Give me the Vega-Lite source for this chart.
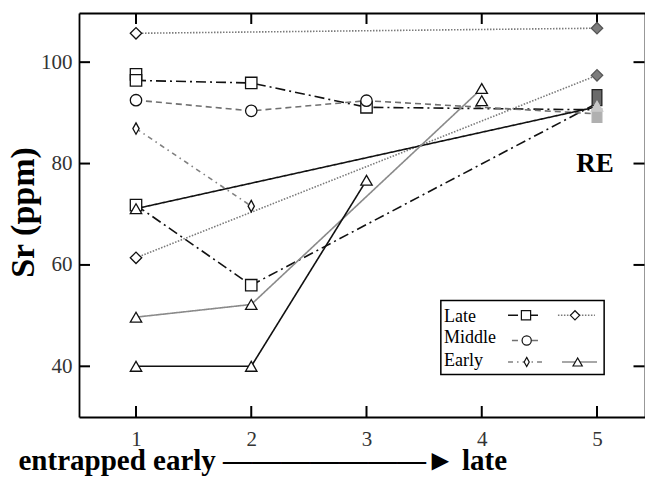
{
  "$schema": "https://vega.github.io/schema/vega-lite/v6.json",
  "width": 566,
  "height": 404,
  "autosize": {"type": "none"},
  "padding": {"left": 79, "top": 13, "right": 0, "bottom": 62},
  "background": "white",
  "config": {
    "view": {"stroke": null},
    "font": "Liberation Serif",
    "axis": {
      "grid": false,
      "domainColor": "#000000",
      "domainWidth": 1.8,
      "labelFont": "Liberation Serif",
      "titleFont": "Liberation Serif",
      "labelColor": "#333",
      "titleColor": "#000"
    }
  },
  "datasets": {
    "lines": [
      {"s": "Late-sq-1", "x": 1, "y": 96.4}, {"s": "Late-sq-1", "x": 2, "y": 95.9}, {"s": "Late-sq-1", "x": 3, "y": 91.1}, {"s": "Late-sq-1", "x": 5, "y": 90.6},
      {"s": "Late-sq-2", "x": 1, "y": 71.8}, {"s": "Late-sq-2", "x": 2, "y": 56.0}, {"s": "Late-sq-2", "x": 5, "y": 91.9},
      {"s": "Late-dia-1", "x": 1, "y": 105.7}, {"s": "Late-dia-1", "x": 5, "y": 106.7},
      {"s": "Late-dia-2", "x": 1, "y": 61.4}, {"s": "Late-dia-2", "x": 5, "y": 97.4},
      {"s": "Middle-1", "x": 1, "y": 92.5}, {"s": "Middle-1", "x": 2, "y": 90.4}, {"s": "Middle-1", "x": 3, "y": 92.4}, {"s": "Middle-1", "x": 5, "y": 89.8},
      {"s": "Early-dia-1", "x": 1, "y": 86.9}, {"s": "Early-dia-1", "x": 2, "y": 71.6},
      {"s": "Early-tri-1", "x": 1, "y": 71.1}, {"s": "Early-tri-1", "x": 5, "y": 91.2},
      {"s": "Early-tri-2", "x": 1, "y": 49.7}, {"s": "Early-tri-2", "x": 2, "y": 52.2}, {"s": "Early-tri-2", "x": 4, "y": 94.8},
      {"s": "Early-tri-3", "x": 1, "y": 40.0}, {"s": "Early-tri-3", "x": 2, "y": 40.0}, {"s": "Early-tri-3", "x": 3, "y": 76.7}
    ],
    "pts": [
      {"g": "Late-diamond", "x": 1, "y": 105.7},
      {"g": "Late-diamond", "x": 1, "y": 61.4},
      {"g": "Late-square", "x": 1, "y": 97.6},
      {"g": "Late-square", "x": 1, "y": 96.4},
      {"g": "Late-square", "x": 2, "y": 95.9},
      {"g": "Late-square", "x": 3, "y": 91.1},
      {"g": "Late-square", "x": 1, "y": 71.8},
      {"g": "Late-square", "x": 2, "y": 56.0},
      {"g": "Middle-circle", "x": 1, "y": 92.5},
      {"g": "Middle-circle", "x": 2, "y": 90.4},
      {"g": "Middle-circle", "x": 3, "y": 92.4},
      {"g": "Early-diamond", "x": 1, "y": 86.9},
      {"g": "Early-diamond", "x": 2, "y": 71.6},
      {"g": "Early-triangle", "x": 1, "y": 71.1},
      {"g": "Early-triangle", "x": 1, "y": 49.7},
      {"g": "Early-triangle", "x": 2, "y": 52.2},
      {"g": "Early-triangle", "x": 4, "y": 94.8},
      {"g": "Early-triangle", "x": 4, "y": 92.4},
      {"g": "Early-triangle", "x": 1, "y": 40.0},
      {"g": "Early-triangle", "x": 2, "y": 40.0},
      {"g": "Early-triangle", "x": 3, "y": 76.7},
      {"g": "RE-diamond", "x": 5, "y": 106.7},
      {"g": "RE-diamond", "x": 5, "y": 97.4},
      {"g": "RE-square-dark", "x": 5, "y": 93.0},
      {"g": "RE-square-light", "x": 5, "y": 89.5},
      {"g": "RE-triangle", "x": 5, "y": 91.3}
    ],
    "xticks": [{"v": 1}, {"v": 2}, {"v": 3}, {"v": 4}, {"v": 5}],
    "yticks": [{"v": 40}, {"v": 60}, {"v": 80}, {"v": 100}],
    "legbox": [{"x": 3.645, "x2": 5.062, "y": 38.36, "y2": 53.0}],
    "legtext": [
      {"label": "Late", "x": 3.672, "y": 48.8},
      {"label": "Middle", "x": 3.672, "y": 44.5},
      {"label": "Early", "x": 3.672, "y": 40.0}
    ],
    "leglines": [
      {"s": "Late-sq-1", "x": 4.228, "y": 50.06}, {"s": "Late-sq-1", "x": 4.488, "y": 50.06},
      {"s": "Late-dia-1", "x": 4.661, "y": 50.06}, {"s": "Late-dia-1", "x": 4.982, "y": 50.06},
      {"s": "Middle-1", "x": 4.262, "y": 45.1}, {"s": "Middle-1", "x": 4.488, "y": 45.1},
      {"s": "Early-dia-1", "x": 4.228, "y": 40.85}, {"s": "Early-dia-1", "x": 4.549, "y": 40.85},
      {"s": "Early-tri-2", "x": 4.696, "y": 40.85}, {"s": "Early-tri-2", "x": 5.0, "y": 40.85}
    ],
    "legpts": [
      {"g": "Late-square", "x": 4.384, "y": 50.06},
      {"g": "Late-diamond", "x": 4.809, "y": 50.06},
      {"g": "Middle-circle", "x": 4.39, "y": 45.1},
      {"g": "Early-diamond", "x": 4.39, "y": 40.85},
      {"g": "Early-triangle", "x": 4.832, "y": 40.85}
    ],
    "notes": [{"t": "RE", "x": 5, "y": 80}]
  },
  "resolve": {"axis": {"x": "independent", "y": "independent"}},
  "layer": [
    {
      "data": {"name": "lines"},
      "mark": {"type": "line", "clip": true},
      "encoding": {
        "x": {
          "field": "x", "type": "quantitative",
          "scale": {"domain": [0.5054, 5.4165], "nice": false, "zero": false},
          "axis": {
            "orient": "bottom", "values": [1, 2, 3, 4, 5], "format": "d",
            "ticks": false, "labelFontSize": 21, "labelPadding": 11,
            "title": "entrapped early ———————► late",
            "titleFontSize": 29, "titleFontWeight": "bold",
            "titleAnchor": "start", "titleAlign": "left", "titleBaseline": "alphabetic",
            "titleX": -61, "titleY": 52
          }
        },
        "y": {
          "field": "y", "type": "quantitative",
          "scale": {"domain": [30, 109.7], "nice": false, "zero": false},
          "axis": {
            "orient": "left", "values": [40, 60, 80, 100],
            "ticks": false, "labelFontSize": 21, "labelPadding": 7,
            "title": "Sr (ppm)", "titleFontSize": 34, "titleFontWeight": "bold",
            "titleAngle": -90, "titleAlign": "center", "titleBaseline": "alphabetic",
            "titleX": -46, "titleY": 199
          }
        },
        "detail": {"field": "s"},
        "color": {
          "field": "s", "type": "nominal", "legend": null,
          "scale": {
            "domain": ["Late-sq-1", "Late-sq-2", "Late-dia-1", "Late-dia-2", "Middle-1", "Early-dia-1", "Early-tri-1", "Early-tri-2", "Early-tri-3"],
            "range": ["#111111", "#111111", "#7a7a7a", "#7a7a7a", "#707070", "#808080", "#111111", "#8a8a8a", "#111111"]
          }
        },
        "strokeDash": {
          "field": "s", "type": "nominal", "legend": null,
          "scale": {
            "domain": ["Late-sq-1", "Late-sq-2", "Late-dia-1", "Late-dia-2", "Middle-1", "Early-dia-1", "Early-tri-1", "Early-tri-2", "Early-tri-3"],
            "range": [[10, 4, 2, 4], [10, 4, 2, 4], [1.5, 1.5], [1.5, 1.5], [6, 4], [5, 4, 1.5, 4], [1, 0], [1, 0], [1, 0]]
          }
        },
        "strokeWidth": {
          "field": "s", "type": "nominal", "legend": null,
          "scale": {
            "domain": ["Late-sq-1", "Late-sq-2", "Late-dia-1", "Late-dia-2", "Middle-1", "Early-dia-1", "Early-tri-1", "Early-tri-2", "Early-tri-3"],
            "range": [1.6, 1.6, 1.5, 1.5, 1.3, 1.3, 1.8, 1.0, 1.6]
          }
        }
      }
    },
    {
      "data": {"name": "pts"},
      "mark": {"type": "point", "opacity": 0},
      "encoding": {
        "x": {"field": "x", "type": "quantitative",
          "axis": {"orient": "top", "values": [1, 2, 3, 4, 5], "domain": true, "labels": false, "ticks": false, "title": null}},
        "y": {"field": "y", "type": "quantitative",
          "axis": {"orient": "right", "values": [40, 60, 80, 100], "domain": true, "labels": false, "ticks": false, "title": null}}
      }
    },
    {
      "data": {"name": "xticks"},
      "mark": {"type": "tick", "orient": "vertical", "size": 11, "thickness": 2, "color": "#000", "opacity": 1, "yOffset": -5.5},
      "encoding": {
        "x": {"field": "v", "type": "quantitative", "axis": null},
        "y": {"datum": 30, "type": "quantitative", "axis": null}
      }
    },
    {
      "data": {"name": "xticks"},
      "mark": {"type": "tick", "orient": "vertical", "size": 11, "thickness": 2, "color": "#000", "opacity": 1, "yOffset": 5.5},
      "encoding": {
        "x": {"field": "v", "type": "quantitative", "axis": null},
        "y": {"datum": 109.7, "type": "quantitative", "axis": null}
      }
    },
    {
      "data": {"name": "yticks"},
      "mark": {"type": "tick", "orient": "horizontal", "size": 11, "thickness": 2, "color": "#000", "opacity": 1, "xOffset": 5.5},
      "encoding": {
        "y": {"field": "v", "type": "quantitative", "axis": null},
        "x": {"datum": 0.5054, "type": "quantitative", "axis": null}
      }
    },
    {
      "data": {"name": "yticks"},
      "mark": {"type": "tick", "orient": "horizontal", "size": 11, "thickness": 2, "color": "#000", "opacity": 1, "xOffset": -6},
      "encoding": {
        "y": {"field": "v", "type": "quantitative", "axis": null},
        "x": {"datum": 5.4165, "type": "quantitative", "axis": null}
      }
    },
    {
      "data": {"name": "pts"},
      "mark": {"type": "point", "filled": true, "size": 130, "strokeWidth": 1.3, "opacity": 1},
      "encoding": {
        "x": {"field": "x", "type": "quantitative", "axis": null},
        "y": {"field": "y", "type": "quantitative", "axis": null},
        "shape": {
          "field": "g", "type": "nominal", "legend": null,
          "scale": {
            "domain": ["Late-square", "Late-diamond", "Middle-circle", "Early-diamond", "Early-triangle", "RE-diamond", "RE-square-dark", "RE-square-light", "RE-triangle"],
            "range": ["square", "diamond", "circle", "M0,-1L0.55,0L0,1L-0.55,0Z", "triangle-up", "diamond", "M-0.85,-1.4H0.85V1.4H-0.85Z", "M-0.85,-1.2H0.85V1.2H-0.85Z", "triangle-up"]
          }
        },
        "fill": {
          "field": "g", "type": "nominal", "legend": null,
          "scale": {
            "domain": ["Late-square", "Late-diamond", "Middle-circle", "Early-diamond", "Early-triangle", "RE-diamond", "RE-square-dark", "RE-square-light", "RE-triangle"],
            "range": ["#ffffff", "#ffffff", "#ffffff", "#ffffff", "#ffffff", "#7d7d7d", "#6a6a6a", "#b0b0b0", "#c8c8c8"]
          }
        },
        "stroke": {
          "field": "g", "type": "nominal", "legend": null,
          "scale": {
            "domain": ["Late-square", "Late-diamond", "Middle-circle", "Early-diamond", "Early-triangle", "RE-diamond", "RE-square-dark", "RE-square-light", "RE-triangle"],
            "range": ["#111111", "#111111", "#111111", "#111111", "#111111", "#555555", "#222222", "#b0b0b0", "#c8c8c8"]
          }
        }
      }
    },
    {
      "data": {"name": "notes"},
      "mark": {"type": "text", "fontSize": 27, "fontWeight": "bold", "font": "Liberation Serif", "align": "center", "baseline": "middle", "dx": -2, "color": "#000"},
      "encoding": {
        "x": {"field": "x", "type": "quantitative", "axis": null},
        "y": {"field": "y", "type": "quantitative", "axis": null},
        "text": {"field": "t"}
      }
    },
    {
      "data": {"name": "legbox"},
      "mark": {"type": "rect", "fill": "white", "stroke": "#000", "strokeWidth": 1.5},
      "encoding": {
        "x": {"field": "x", "type": "quantitative", "axis": null},
        "x2": {"field": "x2"},
        "y": {"field": "y", "type": "quantitative", "axis": null},
        "y2": {"field": "y2"}
      }
    },
    {
      "data": {"name": "legtext"},
      "mark": {"type": "text", "fontSize": 18, "font": "Liberation Serif", "align": "left", "baseline": "alphabetic", "color": "#000"},
      "encoding": {
        "x": {"field": "x", "type": "quantitative", "axis": null},
        "y": {"field": "y", "type": "quantitative", "axis": null},
        "text": {"field": "label"}
      }
    },
    {
      "data": {"name": "leglines"},
      "mark": {"type": "line"},
      "encoding": {
        "x": {"field": "x", "type": "quantitative", "axis": null},
        "y": {"field": "y", "type": "quantitative", "axis": null},
        "detail": {"field": "s"},
        "color": {"field": "s", "type": "nominal", "legend": null},
        "strokeDash": {"field": "s", "type": "nominal", "legend": null},
        "strokeWidth": {"field": "s", "type": "nominal", "legend": null}
      }
    },
    {
      "data": {"name": "legpts"},
      "mark": {"type": "point", "filled": true, "size": 85, "strokeWidth": 1.2, "opacity": 1},
      "encoding": {
        "x": {"field": "x", "type": "quantitative", "axis": null},
        "y": {"field": "y", "type": "quantitative", "axis": null},
        "shape": {"field": "g", "type": "nominal", "legend": null},
        "fill": {"field": "g", "type": "nominal", "legend": null},
        "stroke": {"field": "g", "type": "nominal", "legend": null}
      }
    }
  ]
}
